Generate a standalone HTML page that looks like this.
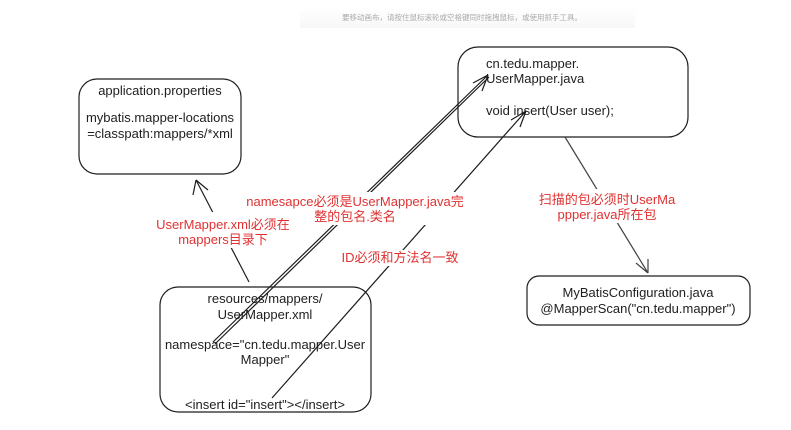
<!DOCTYPE html>
<html><head><meta charset="utf-8"><style>
body{margin:0;width:791px;height:430px;background:#fff;overflow:hidden;position:relative;font-family:"Liberation Sans","Noto Sans CJK SC",sans-serif}
svg{position:absolute;left:0;top:0}
text{font-family:"Liberation Sans","Noto Sans CJK SC",sans-serif;font-size:13px}
.b{fill:#1e1e1e}
.r{fill:#e03131}
</style></head><body>
<svg width="791" height="430" viewBox="0 0 791 430">
<defs><linearGradient id="g" x1="0" x2="0" y1="0" y2="1"><stop offset="0" stop-color="#fff"/><stop offset="1" stop-color="#f7f7f7"/></linearGradient></defs>
<rect x="300" y="8" width="335" height="20" fill="url(#g)"/>
<text x="462" y="20" text-anchor="middle" style="font-size:7.5px" fill="#aaa">要移动画布，请按住鼠标滚轮或空格键同时拖拽鼠标，或使用抓手工具。</text>
<g fill="none" stroke="#1e1e1e" stroke-width="1.2">
<rect x="79" y="79" width="162" height="95" rx="18"/>
<rect x="458" y="47" width="230" height="90" rx="20"/>
<rect x="160" y="287" width="211" height="125" rx="18"/>
<rect x="527" y="276" width="223" height="49" rx="12"/>
<path d="M249 282 L196 180 M196 180 L193 195 M196 180 L208 190"/>
<path d="M213 342 L488 75 M215 344 L489 77 M488 75 L473 83 M488 75 L482 91"/>
<path d="M272 398 L526 111 M526 111 L511 120 M526 111 L520 127"/>
<path d="M565 137 L648 273 M648 273 L636 263 M648 273 L648 259" stroke="#444"/>
</g>
<g fill="#fff">
<rect x="150" y="212" width="146" height="36"/>
<rect x="245" y="192" width="222" height="33"/>
<rect x="338" y="250" width="124" height="16"/>
<rect x="536" y="189" width="142" height="34"/>
</g>
<text class="b" x="160" y="95" text-anchor="middle">application.properties</text>
<text class="b" x="160" y="122" text-anchor="middle">mybatis.mapper-locations</text>
<text class="b" x="160" y="138" text-anchor="middle">=classpath:mappers/*xml</text>
<text class="b" x="486" y="68">cn.tedu.mapper.</text>
<text class="b" x="486" y="83">UserMapper.java</text>
<text class="b" x="486" y="115">void insert(User user);</text>
<text class="b" x="265" y="303" text-anchor="middle">resources/mappers/</text>
<text class="b" x="265" y="319" text-anchor="middle">UserMapper.xml</text>
<text class="b" x="265" y="349" text-anchor="middle">namespace="cn.tedu.mapper.User</text>
<text class="b" x="265" y="364" text-anchor="middle">Mapper"</text>
<text class="b" x="265" y="409" text-anchor="middle">&lt;insert id="insert"&gt;&lt;/insert&gt;</text>
<text class="b" x="638" y="297" text-anchor="middle">MyBatisConfiguration.java</text>
<text class="b" x="638" y="313" text-anchor="middle">@MapperScan("cn.tedu.mapper")</text>
<text class="r" x="355" y="206" text-anchor="middle">namesapce必须是UserMapper.java完</text>
<text class="r" x="355" y="221" text-anchor="middle">整的包名.类名</text>
<text class="r" x="223" y="229" text-anchor="middle">UserMapper.xml必须在</text>
<text class="r" x="223" y="244" text-anchor="middle">mappers目录下</text>
<text class="r" x="400" y="262" text-anchor="middle">ID必须和方法名一致</text>
<text class="r" x="607" y="204" text-anchor="middle">扫描的包必须时UserMa</text>
<text class="r" x="607" y="219" text-anchor="middle">ppper.java所在包</text>
</svg>
</body></html>
